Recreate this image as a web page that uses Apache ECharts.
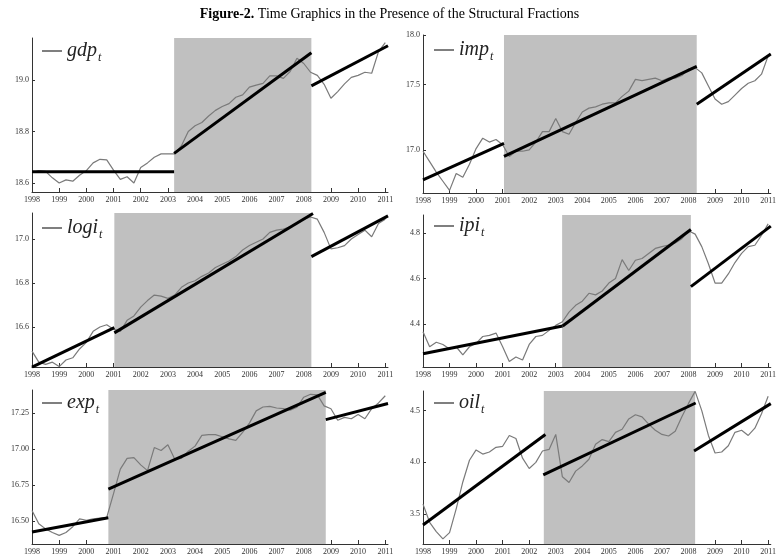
<!DOCTYPE html>
<html><head><meta charset="utf-8">
<script src="https://cdn.jsdelivr.net/npm/echarts@6/dist/echarts.min.js"></script>
<style>html,body{margin:0;padding:0;background:#fff}#c{width:779px;height:556px}</style>
</head><body><div id="c"></div>
<script>
// quarterly time index 1998Q1 .. 2011Q1
const quarters = Array.from({length:53},(_,i)=>1998+i*0.25);
const yearTicks = [1998,1999,2000,2001,2002,2003,2004,2005,2006,2007,2008,2009,2010,2011];

const gdp = [18.640,18.648,18.645,18.620,18.600,18.612,18.607,18.630,18.648,18.678,18.692,18.690,18.650,18.614,18.624,18.600,18.660,18.678,18.700,18.713,18.713,18.713,18.745,18.800,18.822,18.835,18.860,18.882,18.897,18.908,18.933,18.942,18.972,18.980,18.987,19.016,19.016,19.006,19.033,19.084,19.064,19.030,19.018,18.983,18.929,18.955,18.985,19.010,19.018,19.030,19.026,19.110,19.145];
const imp = [16.99,16.91,16.83,16.76,16.69,16.82,16.79,16.89,17.01,17.09,17.06,17.08,17.04,16.95,16.99,16.99,17.00,17.06,17.14,17.14,17.24,17.14,17.12,17.21,17.29,17.32,17.33,17.35,17.36,17.36,17.41,17.45,17.54,17.53,17.54,17.55,17.53,17.55,17.55,17.57,17.62,17.63,17.59,17.49,17.39,17.35,17.37,17.42,17.47,17.51,17.53,17.58,17.72];
const logi = [16.49,16.44,16.43,16.44,16.42,16.45,16.46,16.50,16.53,16.58,16.60,16.61,16.59,16.58,16.63,16.65,16.69,16.72,16.745,16.74,16.73,16.745,16.78,16.80,16.81,16.83,16.845,16.87,16.885,16.90,16.92,16.95,16.97,16.985,17.00,17.03,17.04,17.045,17.055,17.07,17.09,17.10,17.09,17.03,16.955,16.96,16.97,17.00,17.02,17.04,17.01,17.07,17.09];
const ipi = [4.366,4.30,4.32,4.31,4.29,4.30,4.264,4.30,4.315,4.345,4.35,4.36,4.30,4.235,4.255,4.242,4.31,4.345,4.35,4.372,4.394,4.41,4.452,4.482,4.50,4.535,4.528,4.545,4.58,4.60,4.683,4.635,4.68,4.688,4.71,4.732,4.74,4.747,4.756,4.775,4.81,4.795,4.74,4.665,4.58,4.58,4.62,4.67,4.71,4.74,4.746,4.79,4.84];
const exp = [16.573,16.48,16.445,16.42,16.40,16.42,16.46,16.515,16.505,16.515,16.52,16.525,16.69,16.86,16.935,16.94,16.89,16.85,17.01,16.99,17.03,16.93,16.935,16.985,17.02,17.095,17.10,17.10,17.085,17.07,17.06,17.115,17.18,17.265,17.292,17.296,17.285,17.28,17.27,17.29,17.36,17.38,17.376,17.30,17.28,17.20,17.22,17.21,17.24,17.21,17.28,17.32,17.37];
const oil = [3.596,3.42,3.33,3.26,3.32,3.55,3.81,4.02,4.12,4.08,4.10,4.145,4.155,4.26,4.23,4.04,3.94,4.00,4.11,4.125,4.27,3.86,3.805,3.915,3.965,4.03,4.175,4.22,4.20,4.29,4.32,4.42,4.46,4.44,4.37,4.31,4.27,4.255,4.30,4.44,4.57,4.686,4.50,4.26,4.09,4.10,4.16,4.29,4.31,4.26,4.33,4.47,4.64];

// structural break regimes (shaded) and fitted trend segments [x0,y0,x1,y1]
const shadeGdp = [2003.23, 2008.28];
const shadeImp = [2001.05, 2008.31];
const shadeLogi = [2001.03, 2008.28];
const shadeIpi = [2003.24, 2008.09];
const shadeExp = [2000.81, 2008.81];
const shadeOil = [2002.55, 2008.25];

const trendGdp = [[1998,18.644,2003.23,18.644],[2003.23,18.715,2008.28,19.106],[2008.28,18.977,2011.1,19.133]];
const trendImp = [[1998,16.77,2001.05,17.05],[2001.05,16.95,2008.31,17.64],[2008.31,17.35,2011.1,17.735]];
const trendLogi = [[1998,16.417,2001.03,16.597],[2001.03,16.573,2008.34,17.116],[2008.28,16.92,2011.1,17.105]];
const trendIpi = [[1998,4.269,2003.26,4.391],[2003.26,4.391,2008.09,4.815],[2008.09,4.564,2011.1,4.830]];
const trendExp = [[1998,16.424,2000.81,16.523],[2000.81,16.722,2008.81,17.394],[2008.81,17.204,2011.1,17.316]];
const trendOil = [[1998,3.394,2002.61,4.269],[2002.53,3.878,2008.27,4.574],[2008.21,4.109,2011.1,4.568]];

const gdpTicks = [18.6,18.8,19.0];
const impTicks = [17.0,17.5,17.88];
const impTickLabels = ['17.0','17.5','18.0'];
const logiTicks = [16.6,16.8,17.0];
const ipiTicks = [4.4,4.6,4.8];
const expTicks = [16.5,16.75,17.0,17.25];
const oilTicks = [3.5,4.0,4.5];

const panels = [
  {name:'gdp', vals:gdp, shade:shadeGdp, trend:trendGdp, ticks:gdpTicks, fmt:v=>v.toFixed(1), min:18.565, max:19.163, grid:{left:32,top:38,width:356,height:154}, leg:{left:37,top:36}},
  {name:'imp', vals:imp, shade:shadeImp, trend:trendImp, ticks:impTicks, fmt:v=>impTickLabels[impTicks.indexOf(v)] || v.toFixed(1), min:16.67, max:17.88, grid:{left:423,top:35,width:356,height:158}, leg:{left:429,top:35}},
  {name:'logi', vals:logi, shade:shadeLogi, trend:trendLogi, ticks:logiTicks, fmt:v=>v.toFixed(1), min:16.418, max:17.118, grid:{left:32,top:213,width:356,height:154}, leg:{left:37,top:213}},
  {name:'ipi', vals:ipi, shade:shadeIpi, trend:trendIpi, ticks:ipiTicks, fmt:v=>v.toFixed(1), min:4.211, max:4.879, grid:{left:423,top:215,width:356,height:152}, leg:{left:429,top:211}},
  {name:'exp', vals:exp, shade:shadeExp, trend:trendExp, ticks:expTicks, fmt:v=>v.toFixed(2), min:16.34, max:17.41, grid:{left:32,top:390,width:356,height:155}, leg:{left:37,top:388}},
  {name:'oil', vals:oil, shade:shadeOil, trend:trendOil, ticks:oilTicks, fmt:v=>v.toFixed(1), min:3.21, max:4.69, grid:{left:423,top:391,width:356,height:154}, leg:{left:429,top:388}}
];

const FONT = 'Liberation Serif';
const grids = [], xAxes = [], yAxes = [], series = [], legends = [];
panels.forEach((p,i)=>{
  grids.push(Object.assign({containLabel:false}, p.grid));
  xAxes.push({type:'value', gridIndex:i, min:1998, max:2011.1,
    axisLine:{show:true, lineStyle:{color:'#333', width:1}},
    axisTick:{show:true, inside:true, length:4, customValues:yearTicks, lineStyle:{color:'#333'}},
    axisLabel:{show:true, customValues:yearTicks, fontFamily:FONT, fontSize:8, color:'#333', margin:4, formatter:v=>String(Math.round(v))},
    splitLine:{show:false}});
  yAxes.push({type:'value', gridIndex:i, min:p.min, max:p.max,
    axisLine:{show:true, lineStyle:{color:'#333', width:1}},
    axisTick:{show:true, inside:true, length:3, customValues:p.ticks, lineStyle:{color:'#333'}},
    axisLabel:{show:true, customValues:p.ticks, fontFamily:FONT, fontSize:8, color:'#333', margin:3, formatter:p.fmt},
    splitLine:{show:false}});
  series.push({type:'line', name:p.name, xAxisIndex:i, yAxisIndex:i, symbol:'none', z:3,
    data:quarters.map((q,j)=>[q,p.vals[j]]),
    lineStyle:{color:'#7a7a7a', width:1.2}, itemStyle:{color:'#666'},
    markArea:{silent:true, itemStyle:{color:'#c0c0c0', opacity:1}, data:[[{xAxis:p.shade[0]},{xAxis:p.shade[1]}]]}
  });
  p.trend.forEach(s=>{
    series.push({type:'line', name:p.name+'_trend', xAxisIndex:i, yAxisIndex:i, symbol:'none', z:4,
      data:[[s[0],s[1]],[s[2],s[3]]], lineStyle:{color:'#000', width:3}});
  });
  legends.push({data:[p.name], left:p.leg.left, top:p.leg.top, icon:'rect', itemWidth:20, itemHeight:1.5, itemGap:5,
    selectedMode:false, itemStyle:{color:'#555'},
    formatter:n=>'{n|'+n+'}{s|t}',
    textStyle:{rich:{n:{fontFamily:FONT, fontStyle:'italic', fontSize:20, color:'#222'}, s:{fontFamily:FONT, fontStyle:'italic', fontSize:12, color:'#222', padding:[13,0,0,1]}}}
  });
});

const chart = echarts.init(document.getElementById('c'), null, {renderer:'canvas'});
chart.setOption({
  animation:false,
  backgroundColor:'#fff',
  title:{text:'{b|Figure-2.} Time Graphics in the Presence of the Structural Fractions', left:'center', top:2,
    textStyle:{fontFamily:FONT, fontSize:14, fontWeight:'normal', color:'#000', rich:{b:{fontFamily:FONT, fontSize:14, fontWeight:'bold', color:'#000'}}}},
  grid:grids, xAxis:xAxes, yAxis:yAxes, legend:legends, series:series
});
</script></body></html>
